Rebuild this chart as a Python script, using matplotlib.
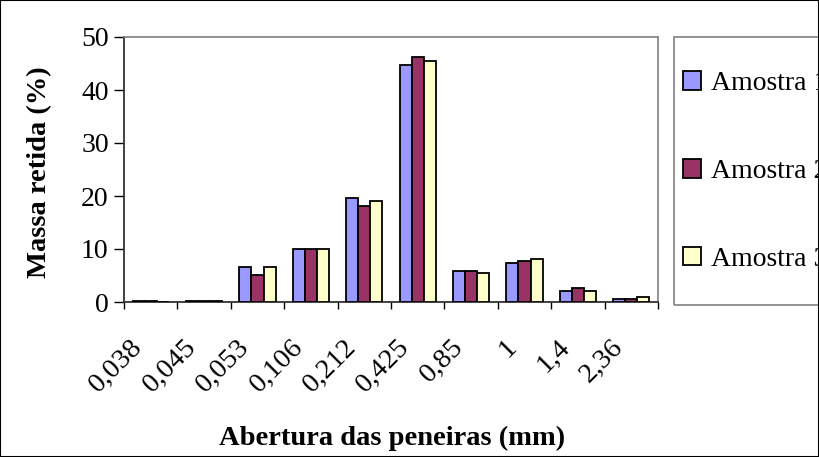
import matplotlib
matplotlib.use('Agg')
import matplotlib.pyplot as plt
import matplotlib.transforms as mtransforms
import numpy as np

# peneiras (mm)
aberturas = ['0,038', '0,045', '0,053', '0,106', '0,212', '0,425', '0,85', '1', '1,4', '2,36']
amostra1 = [0.2, 0.2, 6.6, 10.0, 19.7, 44.8, 5.9, 7.4, 2.1, 0.6]
amostra2 = [0.2, 0.2, 5.1, 10.0, 18.2, 46.2, 5.9, 7.8, 2.6, 0.6]
amostra3 = [0.0, 0.2, 6.6, 10.0, 19.0, 45.5, 5.5, 8.2, 2.1, 1.0]
nomes = ['Amostra 1', 'Amostra 2', 'Amostra 3']
cores = ['#9999FF', '#993366', '#FFFFCC']

plt.rcParams['font.family'] = ['Liberation Serif', 'DejaVu Serif']

W, H = 819, 457
fig = plt.figure(figsize=(W / 100, H / 100), dpi=100)
ax = fig.add_axes([124 / W, 1 - 302 / H, (658 - 124) / W, (302 - 37) / H])

x = np.arange(len(aberturas))
larg = 0.225
for i, (vals, nome, cor) in enumerate(zip([amostra1, amostra2, amostra3], nomes, cores)):
    ax.bar(x + (i - 1) * larg, vals, width=larg, color=cor, edgecolor='black',
           linewidth=1.3, label=nome, zorder=3)

ax.set_xlim(-0.5, len(aberturas) - 0.5)
ax.set_ylim(0, 50)
ax.set_yticks(range(0, 51, 10))
ax.tick_params(axis='y', direction='out', length=7, width=1, labelsize=20, pad=4)

ax.set_xticks(x)
ax.set_xticklabels(aberturas, rotation=45, ha='right', va='top', fontsize=20.5)
ax.tick_params(axis='x', which='major', length=0, pad=23.5)
ax.set_xticks(np.arange(-0.5, len(aberturas)), minor=True)
ax.tick_params(axis='x', which='minor', direction='out', length=5, width=1)
offs = mtransforms.ScaledTranslation(-3 / 100, 0, fig.dpi_scale_trans)
for lab in ax.get_xticklabels():
    lab.set_transform(lab.get_transform() + offs)

for s in ['top', 'right']:
    ax.spines[s].set_color('#808080')
    ax.spines[s].set_linewidth(1.2)
for s in ['left', 'bottom']:
    ax.spines[s].set_color('#333333')
    ax.spines[s].set_linewidth(1.3)

fig.text(40 / W, 1 - 172 / H, 'Massa retida (%)', rotation=90, ha='center', va='center',
         fontsize=20.5, fontweight='bold')
fig.text(392 / W, 1 - 438 / H, 'Abertura das peneiras (mm)', ha='center', va='center',
         fontsize=20.5, fontweight='bold')

# caixa da legenda
fig.patches.append(plt.Rectangle((674 / W, 1 - 305 / H), 200 / W, 268 / H,
                                 transform=fig.transFigure, fill=False,
                                 edgecolor='#808080', linewidth=1.2))
leg = ax.legend(loc='center left', bbox_to_anchor=(683 / W, 1 - 171.5 / H),
                bbox_transform=fig.transFigure, frameon=False,
                fontsize=20, labelspacing=2.26, borderpad=0, handlelength=0.65,
                handleheight=0.65, handletextpad=0.35, borderaxespad=0)

fig.patches.append(plt.Rectangle((0, 0), 1, 1, transform=fig.transFigure, fill=False,
                                 edgecolor='black', linewidth=1.5))

fig.savefig('out.png', dpi=100)
plt.close()
